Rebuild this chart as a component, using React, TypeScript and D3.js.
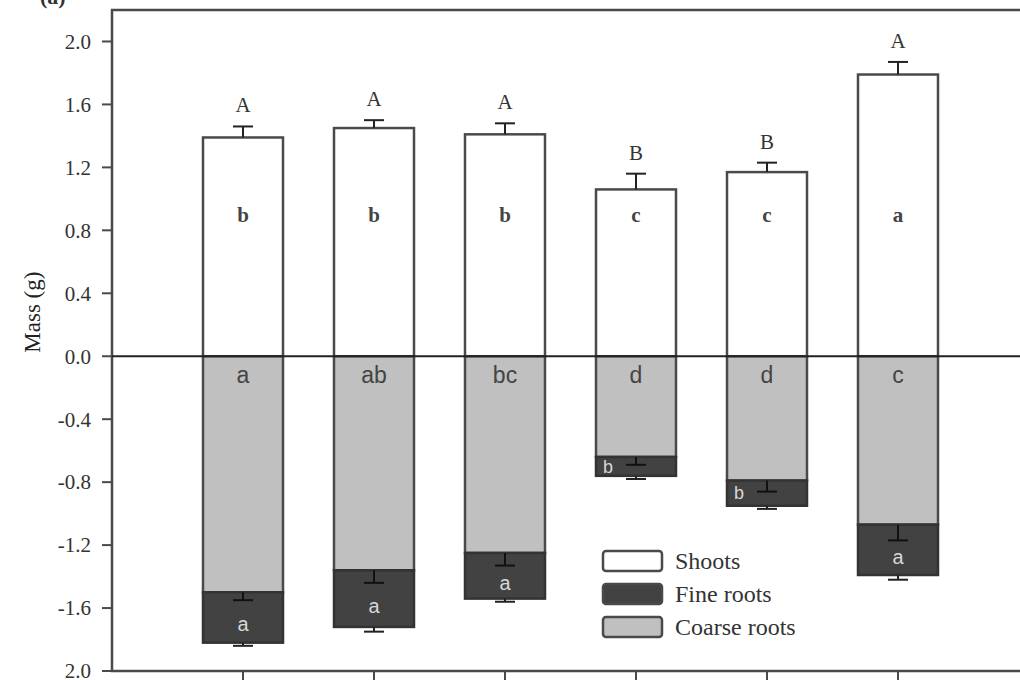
import React from "react";
import * as d3 from "d3";

// treatments (axis labels are cropped off in the source figure)
const categories = ["T1", "T2", "T3", "T4", "T5", "T6"];

const shoots = [1.39, 1.45, 1.41, 1.06, 1.17, 1.79];
const shootsErr = [0.07, 0.05, 0.07, 0.1, 0.06, 0.08];
const coarseRoots = [1.5, 1.36, 1.25, 0.64, 0.79, 1.07];
const coarseErr = [0.05, 0.08, 0.08, 0.05, 0.07, 0.1];
const fineRoots = [0.32, 0.36, 0.29, 0.12, 0.16, 0.32];
const fineErr = [0.02, 0.03, 0.02, 0.02, 0.02, 0.03];

const totalLetters = ["A", "A", "A", "B", "B", "A"];
const shootLetters = ["b", "b", "b", "c", "c", "a"];
const coarseLetters = ["a", "ab", "bc", "d", "d", "c"];
const fineLetters = ["a", "a", "a", "b", "b", "a"];

const yTicks = [2.0, 1.6, 1.2, 0.8, 0.4, 0.0, -0.4, -0.8, -1.2, -1.6, -2.0];
const yTickLabels = ["2.0", "1.6", "1.2", "0.8", "0.4", "0.0", "-0.4", "-0.8", "-1.2", "-1.6", "2.0"];

const legendItems = ["Shoots", "Fine roots", "Coarse roots"];
const legendFills = ["#ffffff", "#424242", "#c0c0c0"];

const W = 1020;
const H = 680;
const left = 112;
const right = 1029;
const top = 10;
const bottom = 671;
const barW = 80;
const serif = "'Liberation Serif', 'Times New Roman', serif";
const sans = "'Liberation Sans', Arial, sans-serif";
const lineCol = "#4a4a4a";

export default function App() {
  const y = d3.scaleLinear().domain([-2.0, 2.2]).range([bottom, top]);
  const x = d3.scalePoint<string>().domain(categories).range([left, right]).padding(1);

  const errBar = (cx: number, y0: number, y1: number, key: string, color = "#222") => (
    <g key={key} stroke={color} strokeWidth={2}>
      <line x1={cx} x2={cx} y1={y0} y2={y1} />
      <line x1={cx - 10} x2={cx + 10} y1={y1} y2={y1} />
    </g>
  );

  return (
    <svg
      width={W}
      height={H}
      style={{ position: "absolute", left: 0, top: 0, background: "#fff" }}
    >
      {/* panel label, cropped at the top in the source */}
      <text x={40} y={4} fontFamily={serif} fontSize={22} fontWeight="bold" fill="#333">
        (a)
      </text>

      {/* frame */}
      <rect x={left} y={top} width={right - left} height={bottom - top} fill="none" stroke={lineCol} strokeWidth={2.5} />

      {/* y axis ticks */}
      {yTicks.map((t, i) => (
        <g key={"yt" + i}>
          <line x1={left - 10} x2={left} y1={y(t)} y2={y(t)} stroke={lineCol} strokeWidth={2} />
          <text
            x={left - 21}
            y={y(t)}
            dy="0.35em"
            textAnchor="end"
            fontFamily={serif}
            fontSize={21}
            fill="#333"
          >
            {yTickLabels[i]}
          </text>
        </g>
      ))}
      <text
        transform={`translate(40, ${y(0.28)}) rotate(-90)`}
        textAnchor="middle"
        fontFamily={serif}
        fontSize={23}
        fill="#222"
      >
        Mass (g)
      </text>

      {/* x axis ticks */}
      {categories.map((c) => (
        <line key={"xt" + c} x1={x(c)!} x2={x(c)!} y1={bottom} y2={bottom + 10} stroke={lineCol} strokeWidth={2} />
      ))}

      {/* bars */}
      {categories.map((c, i) => {
        const cx = x(c)!;
        const x0 = cx - barW / 2;
        const coarseEnd = -coarseRoots[i];
        const fineEnd = coarseEnd - fineRoots[i];
        const small = fineRoots[i] < 0.2;
        return (
          <g key={"bar" + c}>
            <rect x={x0} y={y(shoots[i])} width={barW} height={y(0) - y(shoots[i])} fill="#fff" stroke={lineCol} strokeWidth={2.5} />
            <rect x={x0} y={y(0)} width={barW} height={y(coarseEnd) - y(0)} fill="#c0c0c0" stroke={lineCol} strokeWidth={2.5} />
            <rect x={x0} y={y(coarseEnd)} width={barW} height={y(fineEnd) - y(coarseEnd)} fill="#424242" stroke="#333" strokeWidth={2.5} />

            {errBar(cx, y(shoots[i]), y(shoots[i] + shootsErr[i]), "se")}
            {errBar(cx, y(coarseEnd), y(coarseEnd - coarseErr[i]), "ce", "#111")}
            {errBar(cx, y(fineEnd), y(fineEnd - fineErr[i]), "fe")}

            <text x={cx} y={y(shoots[i] + shootsErr[i]) - 14} textAnchor="middle" fontFamily={serif} fontSize={21} fill="#333">
              {totalLetters[i]}
            </text>
            <text x={cx} y={y(0.9)} dy="0.35em" textAnchor="middle" fontFamily={serif} fontSize={21} fontWeight="bold" fill="#444">
              {shootLetters[i]}
            </text>
            <text x={cx} y={y(-0.12)} dy="0.35em" textAnchor="middle" fontFamily={sans} fontSize={23} fill="#444">
              {coarseLetters[i]}
            </text>
            <text
              x={small ? x0 + 12 : cx}
              y={small ? (y(coarseEnd) + y(fineEnd)) / 2 : (y(coarseEnd) + y(fineEnd)) / 2 + 7}
              dy="0.35em"
              textAnchor="middle"
              fontFamily={sans}
              fontSize={small ? 18 : 20}
              fill="#d8d8d8"
            >
              {fineLetters[i]}
            </text>
          </g>
        );
      })}

      {/* zero line */}
      <line x1={left} x2={right} y1={y(0)} y2={y(0)} stroke="#222" strokeWidth={1.8} />

      {/* legend */}
      {legendItems.map((name, i) => {
        const ly = 551 + i * 33;
        return (
          <g key={"lg" + name}>
            <rect x={603} y={ly} width={59} height={20} rx={3} fill={legendFills[i]} stroke={lineCol} strokeWidth={2.5} />
            <text x={675} y={ly + 10} dy="0.35em" fontFamily={serif} fontSize={24} fill="#333">
              {name}
            </text>
          </g>
        );
      })}
    </svg>
  );
}
